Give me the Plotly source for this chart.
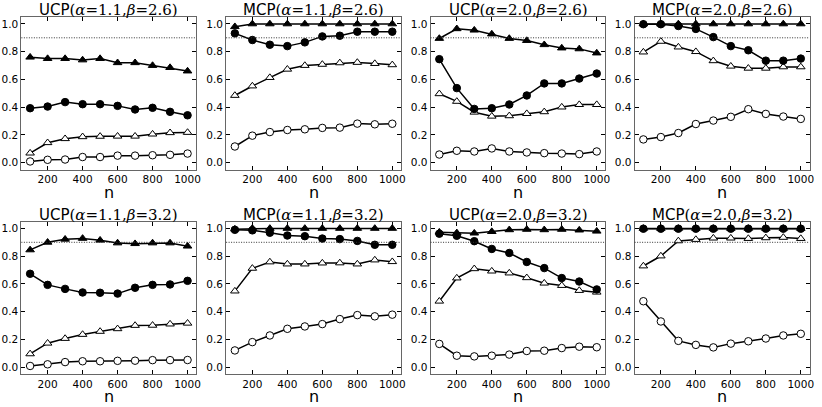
import plotly.graph_objects as go

n = [100, 200, 300, 400, 500, 600, 700, 800, 900, 1000]

titles = [
    ("UCP", "1.1", "2.6"), ("MCP", "1.1", "2.6"), ("UCP", "2.0", "2.6"), ("MCP", "2.0", "2.6"),
    ("UCP", "1.1", "3.2"), ("MCP", "1.1", "3.2"), ("UCP", "2.0", "3.2"), ("MCP", "2.0", "3.2"),
]

# series per panel: filled triangle, filled circle, open triangle, open circle
filled_tri = [
    [0.76, 0.75, 0.75, 0.74, 0.75, 0.72, 0.72, 0.70, 0.685, 0.66],
    [0.98, 1.0, 1.0, 1.0, 1.0, 1.0, 1.0, 1.0, 1.0, 1.0],
    [0.895, 0.965, 0.955, 0.927, 0.895, 0.88, 0.85, 0.826, 0.82, 0.79],
    [1.0, 1.0, 1.0, 1.0, 1.0, 1.0, 1.0, 1.0, 1.0, 1.0],
    [0.845, 0.90, 0.922, 0.928, 0.915, 0.895, 0.89, 0.895, 0.895, 0.872],
    [0.995, 1.0, 1.0, 1.0, 1.0, 1.0, 1.0, 1.0, 1.0, 1.0],
    [0.973, 0.968, 0.966, 0.977, 0.99, 0.993, 0.99, 0.993, 0.988, 0.98],
    [1.0, 1.0, 1.0, 1.0, 1.0, 1.0, 1.0, 1.0, 1.0, 1.0],
]
filled_circ = [
    [0.392, 0.404, 0.436, 0.421, 0.421, 0.409, 0.383, 0.395, 0.366, 0.341],
    [0.932, 0.884, 0.850, 0.840, 0.867, 0.910, 0.915, 0.944, 0.944, 0.944],
    [0.746, 0.537, 0.387, 0.392, 0.419, 0.484, 0.571, 0.571, 0.606, 0.642],
    [0.998, 0.998, 0.985, 0.964, 0.905, 0.840, 0.810, 0.735, 0.735, 0.750],
    [0.673, 0.593, 0.564, 0.538, 0.536, 0.530, 0.572, 0.593, 0.596, 0.622],
    [0.990, 0.986, 0.969, 0.949, 0.944, 0.927, 0.923, 0.910, 0.882, 0.882],
    [0.962, 0.947, 0.908, 0.852, 0.823, 0.758, 0.714, 0.642, 0.617, 0.560],
    [0.998, 0.998, 0.998, 0.998, 0.998, 0.998, 0.998, 0.998, 0.998, 0.998],
]
open_tri = [
    [0.068, 0.143, 0.172, 0.186, 0.189, 0.190, 0.190, 0.205, 0.215, 0.217],
    [0.484, 0.552, 0.613, 0.673, 0.700, 0.708, 0.719, 0.722, 0.714, 0.705],
    [0.496, 0.441, 0.363, 0.334, 0.337, 0.353, 0.366, 0.400, 0.418, 0.418],
    [0.797, 0.874, 0.833, 0.800, 0.734, 0.695, 0.680, 0.680, 0.690, 0.690],
    [0.095, 0.172, 0.206, 0.235, 0.257, 0.276, 0.300, 0.301, 0.310, 0.316],
    [0.548, 0.712, 0.758, 0.743, 0.743, 0.750, 0.751, 0.743, 0.772, 0.760],
    [0.475, 0.642, 0.709, 0.692, 0.678, 0.644, 0.605, 0.588, 0.552, 0.540],
    [0.729, 0.801, 0.910, 0.920, 0.930, 0.930, 0.927, 0.932, 0.935, 0.927],
]
open_circ = [
    [0.008, 0.020, 0.022, 0.040, 0.040, 0.050, 0.050, 0.053, 0.056, 0.065],
    [0.116, 0.194, 0.220, 0.235, 0.240, 0.250, 0.252, 0.281, 0.276, 0.280],
    [0.058, 0.085, 0.080, 0.102, 0.080, 0.073, 0.068, 0.065, 0.061, 0.080],
    [0.167, 0.184, 0.213, 0.278, 0.303, 0.330, 0.385, 0.351, 0.332, 0.315],
    [0.008, 0.020, 0.036, 0.042, 0.042, 0.045, 0.046, 0.050, 0.050, 0.051],
    [0.120, 0.180, 0.228, 0.276, 0.293, 0.310, 0.346, 0.375, 0.366, 0.378],
    [0.167, 0.082, 0.077, 0.082, 0.090, 0.116, 0.118, 0.137, 0.147, 0.143],
    [0.475, 0.329, 0.189, 0.160, 0.142, 0.169, 0.186, 0.206, 0.228, 0.240],
]

y_ticks = [0.0, 0.2, 0.4, 0.6, 0.8, 1.0]
y_ticklabels = ["0.0", "0.2", "0.4", "0.6", "0.8", "1.0"]
x_ticks = [200, 400, 600, 800, 1000]
x_ticklabels = ["200", "400", "600", "800", "1000"]
threshold = 0.9

W, H = 822, 407
lefts = [21.5, 227.5, 433.2, 638.5]
pw = 176.0
row_tops = [17.0, 221.5]
ph = 152.5
xlabel_bottoms = [203.0, 406.5]

fig = go.Figure()
layout = dict(width=W, height=H, margin=dict(l=0, r=0, t=0, b=0),
              paper_bgcolor="white", plot_bgcolor="white", showlegend=False,
              font=dict(family="DejaVu Sans", color="black"))
annotations = []
shapes = []

series_styles = [
    ("open_circ", dict(symbol="circle", color="white")),
    ("open_tri", dict(symbol="triangle-up", color="white")),
    ("filled_tri", dict(symbol="triangle-up", color="black")),
    ("filled_circ", dict(symbol="circle", color="black")),
]
data_map = dict(filled_tri=filled_tri, filled_circ=filled_circ, open_tri=open_tri, open_circ=open_circ)

for i in range(8):
    r, c = divmod(i, 4)
    idx = "" if i == 0 else str(i + 1)
    xa, ya = "x" + idx, "y" + idx
    x0 = lefts[c] / W
    x1 = (lefts[c] + pw) / W
    top = row_tops[r]
    y1 = 1 - top / H
    y0 = 1 - (top + ph) / H
    layout["xaxis" + idx] = dict(
        domain=[x0, x1], anchor=ya, range=[50, 1050], tickvals=x_ticks, ticktext=x_ticklabels,
        ticks="inside", ticklen=4, tickwidth=1, tickcolor="black", mirror="allticks",
        showline=True, linecolor="#666666", linewidth=1, showgrid=False, zeroline=False,
        tickfont=dict(size=10.5, family="DejaVu Sans"),
    )
    layout["yaxis" + idx] = dict(
        domain=[y0, y1], anchor=xa, range=[-0.05, 1.05], tickvals=y_ticks, ticktext=y_ticklabels,
        ticks="inside", ticklen=4, tickwidth=1, tickcolor="black", mirror="allticks",
        showline=True, linecolor="#666666", linewidth=1, showgrid=False, zeroline=False,
        tickfont=dict(size=10.5, family="DejaVu Sans"),
    )
    shapes.append(dict(type="line", xref=xa + " domain", yref=ya, x0=0, x1=1, y0=threshold, y1=threshold,
                       line=dict(color="#333333", width=1, dash="1px,1.5px")))
    for key, st in series_styles:
        fig.add_trace(go.Scatter(
            x=n, y=data_map[key][i], mode="lines+markers", xaxis=xa, yaxis=ya,
            line=dict(color="black", width=1.5),
            marker=dict(symbol=st["symbol"], color=st["color"], size=7.5,
                        line=dict(color="black", width=1)),
            cliponaxis=False,
        ))
    name, a, b = titles[i]
    annotations.append(dict(
        text=f'<span style="font-family:DejaVu Sans">{name}</span>(<i>α</i>={a},<i>β</i>={b})',
        xref="paper", yref="paper", x=(x0 + x1) / 2, y=y1, yanchor="bottom", xanchor="center",
        yshift=-3.5, showarrow=False, borderpad=0,
        font=dict(size=15, family="DejaVu Serif", color="black"),
    ))
    annotations.append(dict(
        text="n", xref="paper", yref="paper", x=(x0 + x1) / 2, y=1 - xlabel_bottoms[r] / H,
        yanchor="bottom", xanchor="center", showarrow=False, borderpad=0,
        font=dict(size=16, family="DejaVu Sans", color="black"),
    ))

layout["annotations"] = annotations
layout["shapes"] = shapes
fig.update_layout(**layout)
fig.write_html("out.html", config={"displayModeBar": False},
               post_script="document.body.style.margin='0px';")
